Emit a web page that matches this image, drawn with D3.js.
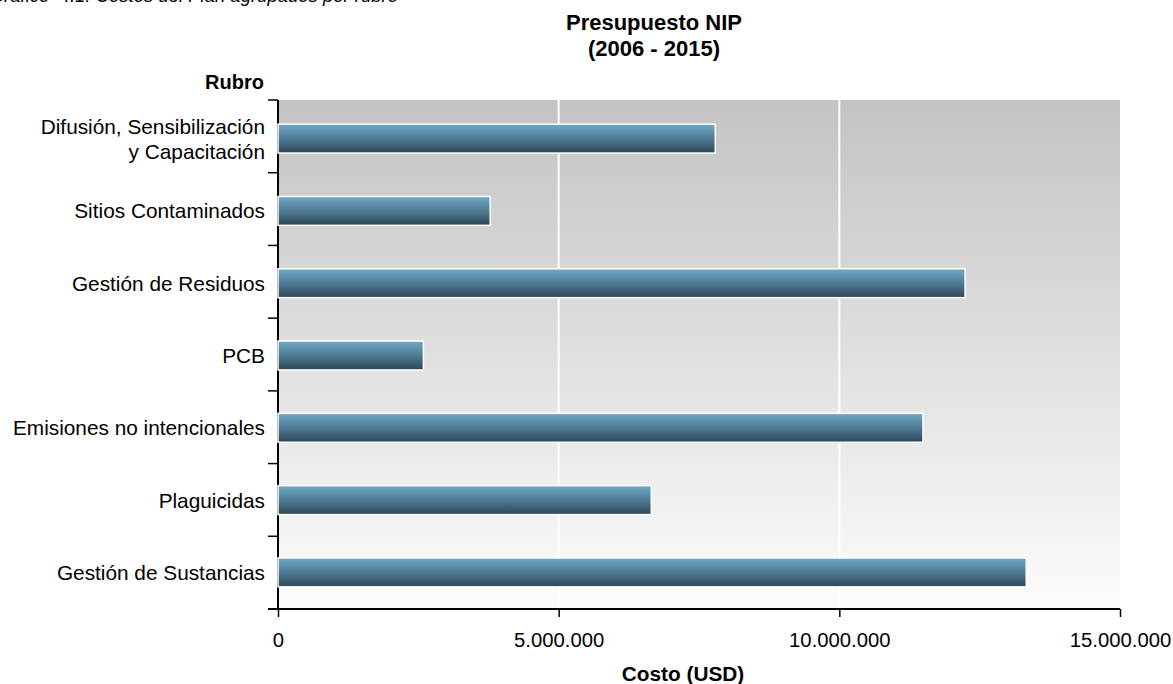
<!DOCTYPE html>
<html><head><meta charset="utf-8">
<script src="https://cdn.jsdelivr.net/npm/d3@7"></script>
<style>
html,body{margin:0;padding:0;background:#fff;}
svg{display:block;font-family:"Liberation Sans",Arial,Helvetica,sans-serif;}
</style></head>
<body><svg id="chart" width="1173" height="684"></svg>
<script>
const categories = [
  ["Difusión, Sensibilización","y Capacitación"],
  ["Sitios Contaminados"],
  ["Gestión de Residuos"],
  ["PCB"],
  ["Emisiones no intencionales"],
  ["Plaguicidas"],
  ["Gestión de Sustancias"]
];
const values = [7790000, 3780000, 12240000, 2590000, 11490000, 6650000, 13330000];
const xTicks = [0, 5000000, 10000000, 15000000];
const xTickLabels = ["0", "5.000.000", "10.000.000", "15.000.000"];
const caption = "Gráfico  4.1: Costos del Plan agrupados por rubro";
const titleLines = ["Presupuesto NIP", "(2006 - 2015)"];
const yTitle = "Rubro";
const xTitle = "Costo (USD)";

(function(){
const svg = d3.select("#chart");
const pL = 278, pR = 1120, pT = 100, pB = 609;
const keys = categories.map((c,i)=>i);
const fs = 20.8;

const x = d3.scaleLinear().domain([0, 15000000]).range([pL, pR]);
const y = d3.scaleBand().domain(keys).range([pT + 1, pB + 1]).paddingInner(0.6).paddingOuter(0.32);

const defs = svg.append("defs");
const bg = defs.append("linearGradient").attr("id","bg").attr("x1",0).attr("y1",0).attr("x2",0).attr("y2",1);
bg.append("stop").attr("offset","0%").attr("stop-color","#c3c3c3");
bg.append("stop").attr("offset","100%").attr("stop-color","#fcfcfc");
const bar = defs.append("linearGradient").attr("id","bar").attr("x1",0).attr("y1",0).attr("x2",0).attr("y2",1);
bar.append("stop").attr("offset","0%").attr("stop-color","#71a9c9");
bar.append("stop").attr("offset","50%").attr("stop-color","#4f7b93");
bar.append("stop").attr("offset","100%").attr("stop-color","#2d4657");

// caption (clipped at top, as in the source)
svg.append("text").attr("x",398).attr("y",2).attr("text-anchor","end").attr("xml:space","preserve")
  .style("white-space","pre")
  .attr("font-style","italic").attr("font-size",18.5).attr("fill","#000").text(caption);

// title
svg.append("text").attr("text-anchor","middle").attr("font-weight","bold").attr("font-size",22)
  .selectAll("tspan").data(titleLines).join("tspan").attr("x",654).attr("y",(d,i)=>30+i*26).text(d=>d);

// plot background
svg.append("rect").attr("x",pL).attr("y",pT).attr("width",pR-pL).attr("height",pB-pT).attr("fill","url(#bg)");

// gridlines
svg.append("g").selectAll("line").data(xTicks.filter(t=>t>0 && t<15000000)).join("line")
  .attr("x1",d=>x(d)).attr("x2",d=>x(d)).attr("y1",pT).attr("y2",pB)
  .attr("stroke","#fff").attr("stroke-width",2);

// y axis line and boundary ticks
svg.append("line").attr("x1",pL).attr("x2",pL).attr("y1",pT).attr("y2",pB).attr("stroke","#000").attr("stroke-width",2);
const stepB = (pB - pT) / categories.length;
svg.append("g").selectAll("line").data(d3.range(categories.length)).join("line")
  .attr("x1",pL-10).attr("x2",pL)
  .attr("y1",i=> pT + i*stepB)
  .attr("y2",i=> pT + i*stepB)
  .attr("stroke","#000").attr("stroke-width",1.5);

// x axis
const xAxis = svg.append("g").attr("transform",`translate(0,${pB})`)
  .call(d3.axisBottom(x).tickValues(xTicks).tickFormat((d,i)=>xTickLabels[i]).tickSize(8).tickSizeOuter(0).tickPadding(16));
xAxis.select(".domain").remove();
xAxis.selectAll(".tick line").attr("stroke","#000").attr("stroke-width",1.5);
xAxis.selectAll(".tick text").attr("font-size",20.3).attr("fill","#000").attr("font-family","Liberation Sans, Arial, sans-serif");
svg.append("line").attr("x1",pL-10).attr("x2",pR).attr("y1",pB).attr("y2",pB).attr("stroke","#000").attr("stroke-width",2);

// bars
svg.append("g").selectAll("rect").data(values).join("rect")
  .attr("x",x(0)).attr("y",(d,i)=>y(i)).attr("width",d=>x(d)-x(0)).attr("height",y.bandwidth())
  .attr("fill","url(#bar)").attr("stroke","#fff").attr("stroke-width",1.5);

// category labels
const lab = svg.append("g").attr("font-size",fs).attr("fill","#000").attr("text-anchor","end");
categories.forEach((lines,i)=>{
  const cy = y(i) + y.bandwidth()/2;
  const t = lab.append("text");
  const n = lines.length;
  lines.forEach((s,j)=>{
    t.append("tspan").attr("x",265).attr("y", cy + fs*0.36 + (j-(n-1)/2)*25).text(s);
  });
});

// axis titles
svg.append("text").attr("x",264).attr("y",89).attr("text-anchor","end").attr("font-weight","bold").attr("font-size",20).text(yTitle);
svg.append("text").attr("x",683).attr("y",681).attr("text-anchor","middle").attr("font-weight","bold").attr("font-size",20.8).text(xTitle);
})();
</script></body></html>
